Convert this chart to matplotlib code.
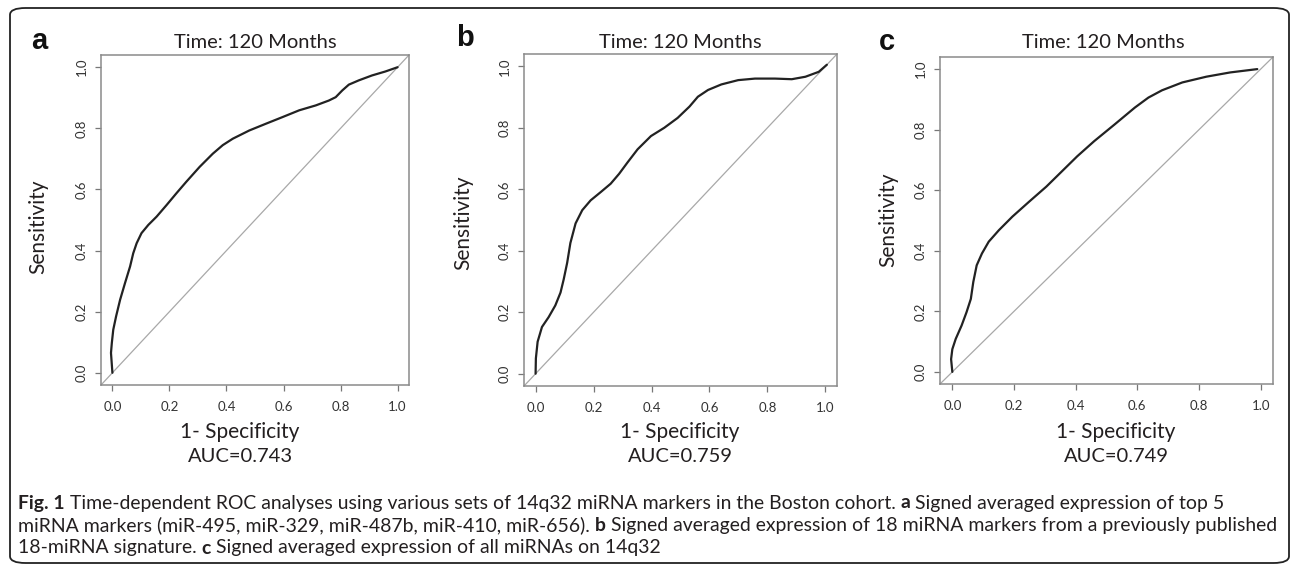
import matplotlib
matplotlib.use("Agg")
import matplotlib.pyplot as plt
from matplotlib.patches import FancyBboxPatch

# ROC curves read at 120 months, one per marker set
fpr_a = [0.0, -0.005, -0.002, 0.003, 0.013, 0.027, 0.044, 0.062, 0.073, 0.085, 0.102,
         0.126, 0.155, 0.19, 0.224, 0.259, 0.306, 0.352, 0.387, 0.422, 0.48, 0.538,
         0.597, 0.655, 0.713, 0.759, 0.783, 0.806, 0.829, 0.864, 0.91, 0.957, 1.0]
tpr_a = [0.0, 0.065, 0.098, 0.141, 0.185, 0.239, 0.293, 0.348, 0.391, 0.424, 0.457,
         0.484, 0.511, 0.549, 0.587, 0.625, 0.674, 0.717, 0.745, 0.766, 0.793, 0.815,
         0.837, 0.859, 0.875, 0.891, 0.902, 0.924, 0.943, 0.957, 0.973, 0.986, 1.0]

fpr_b = [0.0, 0.001, 0.007, 0.022, 0.045, 0.068, 0.086, 0.097, 0.109, 0.12, 0.138,
         0.161, 0.19, 0.225, 0.259, 0.288, 0.317, 0.352, 0.398, 0.444, 0.49, 0.531,
         0.56, 0.595, 0.641, 0.699, 0.757, 0.826, 0.884, 0.931, 0.977, 1.005]
tpr_b = [0.0, 0.05, 0.104, 0.152, 0.184, 0.222, 0.264, 0.307, 0.361, 0.425, 0.489,
         0.532, 0.564, 0.591, 0.618, 0.65, 0.687, 0.73, 0.773, 0.8, 0.832, 0.869,
         0.901, 0.923, 0.941, 0.955, 0.96, 0.96, 0.958, 0.966, 0.982, 1.005]

fpr_c = [0.0, -0.004, 0.0, 0.011, 0.03, 0.046, 0.06, 0.068, 0.079, 0.096, 0.118,
         0.151, 0.195, 0.25, 0.305, 0.361, 0.405, 0.46, 0.526, 0.592, 0.636, 0.68,
         0.746, 0.824, 0.901, 0.989]
tpr_c = [0.0, 0.042, 0.075, 0.109, 0.153, 0.197, 0.241, 0.297, 0.352, 0.391, 0.43,
         0.468, 0.513, 0.563, 0.612, 0.668, 0.712, 0.762, 0.817, 0.873, 0.906, 0.93,
         0.956, 0.975, 0.989, 1.0]

panel_letters = ["a", "b", "c"]
auc_values = [0.743, 0.759, 0.749]
title = "Time: 120 Months"
ticks = [0.0, 0.2, 0.4, 0.6, 0.8, 1.0]

caption_lines = [
    [("Fig. 1", True),
     (" Time-dependent ROC analyses using various sets of 14q32 miRNA markers in the Boston cohort. ", False),
     ("a", True), (" Signed averaged expression of top 5", False)],
    [("miRNA markers (miR-495, miR-329, miR-487b, miR-410, miR-656). ", False), ("b", True),
     (" Signed averaged expression of 18 miRNA markers from a previously published", False)],
    [("18-miRNA signature. ", False), ("c", True), (" Signed averaged expression of all miRNAs on 14q32", False)],
]

W, H = 1292, 567
fig = plt.figure(figsize=(W / 100, H / 100), dpi=100)

label_font = ["Lato", "DejaVu Sans"]
letter_font = ["Liberation Sans", "DejaVu Sans"]
ink = "#231f20"


def px_axes(x0, y0, x1, y1):
    return fig.add_axes([x0 / W, 1 - y1 / H, (x1 - x0) / W, (y1 - y0) / H])


def px_text(x, y, s, **kw):
    return fig.text(x / W, 1 - y / H, s, ha=kw.pop("ha", "center"), va=kw.pop("va", "center"), **kw)


# plot boxes and text anchors, in pixels from the top-left corner
boxes = [(101, 55, 409, 385), (524, 54, 837, 386), (940, 57, 1273, 384)]
curves = [(fpr_a, tpr_a), (fpr_b, tpr_b), (fpr_c, tpr_c)]
letter_pos = [(39, 41), (465, 38), (887, 42)]
title_pos = [(255, 43), (680, 42), (1103, 43)]
ylab_pos = [(38, 227), (463, 223), (888, 220)]
xlab_x = [240, 680, 1116]

for i, (box, (fx, ty)) in enumerate(zip(boxes, curves)):
    ax = px_axes(*box)
    ax.set_xlim(-0.04, 1.04)
    ax.set_ylim(-0.04, 1.04)
    ax.plot([-0.04, 1.04], [-0.04, 1.04], color="#a8a8a8", lw=0.9)
    ax.plot(fx, ty, color="#222222", lw=1.6, solid_joinstyle="round", solid_capstyle="round")
    ax.set_xticks(ticks)
    ax.set_yticks(ticks)
    ax.set_xticklabels([f"{t:.1f}" for t in ticks], family=label_font, fontsize=9.5, color="#333333")
    ax.set_yticklabels([f"{t:.1f}" for t in ticks], family=label_font, fontsize=9.5, color="#333333",
                       rotation=90, va="center")
    ax.tick_params(axis="x", length=4.5, width=0.9, color="#777777", pad=7)
    ax.tick_params(axis="y", length=4.5, width=0.9, color="#777777", pad=5)
    for s in ax.spines.values():
        s.set_color("#8a8a8a")
        s.set_linewidth(1.1)

    px_text(*title_pos[i], title, family=label_font, fontsize=14.5, color=ink)
    px_text(*ylab_pos[i], "Sensitivity", family=label_font, fontsize=15, color=ink, rotation=90)
    px_text(xlab_x[i], 432, "1- Specificity", family=label_font, fontsize=15, color=ink)
    px_text(xlab_x[i], 457, f"AUC={auc_values[i]:.3f}", family=label_font, fontsize=14.5, color=ink)
    px_text(*letter_pos[i], panel_letters[i], family=letter_font, fontsize=21, fontweight="bold",
            color="#111111")

# rounded frame around the figure
frame = FancyBboxPatch((10 / W, 1 - 563 / H), 1279 / W, 555 / H,
                       boxstyle="round,pad=0,rounding_size=0.012", transform=fig.transFigure,
                       fill=False, edgecolor="#222222", lw=1.3)
fig.patches.append(frame)

# caption: size the font so the longest line spans the frame, then draw run by run
fig.canvas.draw()
renderer = fig.canvas.get_renderer()


def line_width(runs, size):
    total = 0
    for txt, bold in runs:
        t = fig.text(0, 0, txt, family=label_font, fontsize=size,
                     fontweight="bold" if bold else "normal")
        total += t.get_window_extent(renderer).width
        t.remove()
    return total


cap_size = 13 * 1252 / line_width(caption_lines[1], 13)
for i, runs in enumerate(caption_lines):
    x = 18
    y = 503 + i * 22.5
    for txt, bold in runs:
        t = px_text(x, y, txt, family=label_font, fontsize=cap_size,
                    fontweight="bold" if bold else "normal", color=ink, ha="left")
        x += t.get_window_extent(renderer).width

fig.savefig("out.png", dpi=100)
